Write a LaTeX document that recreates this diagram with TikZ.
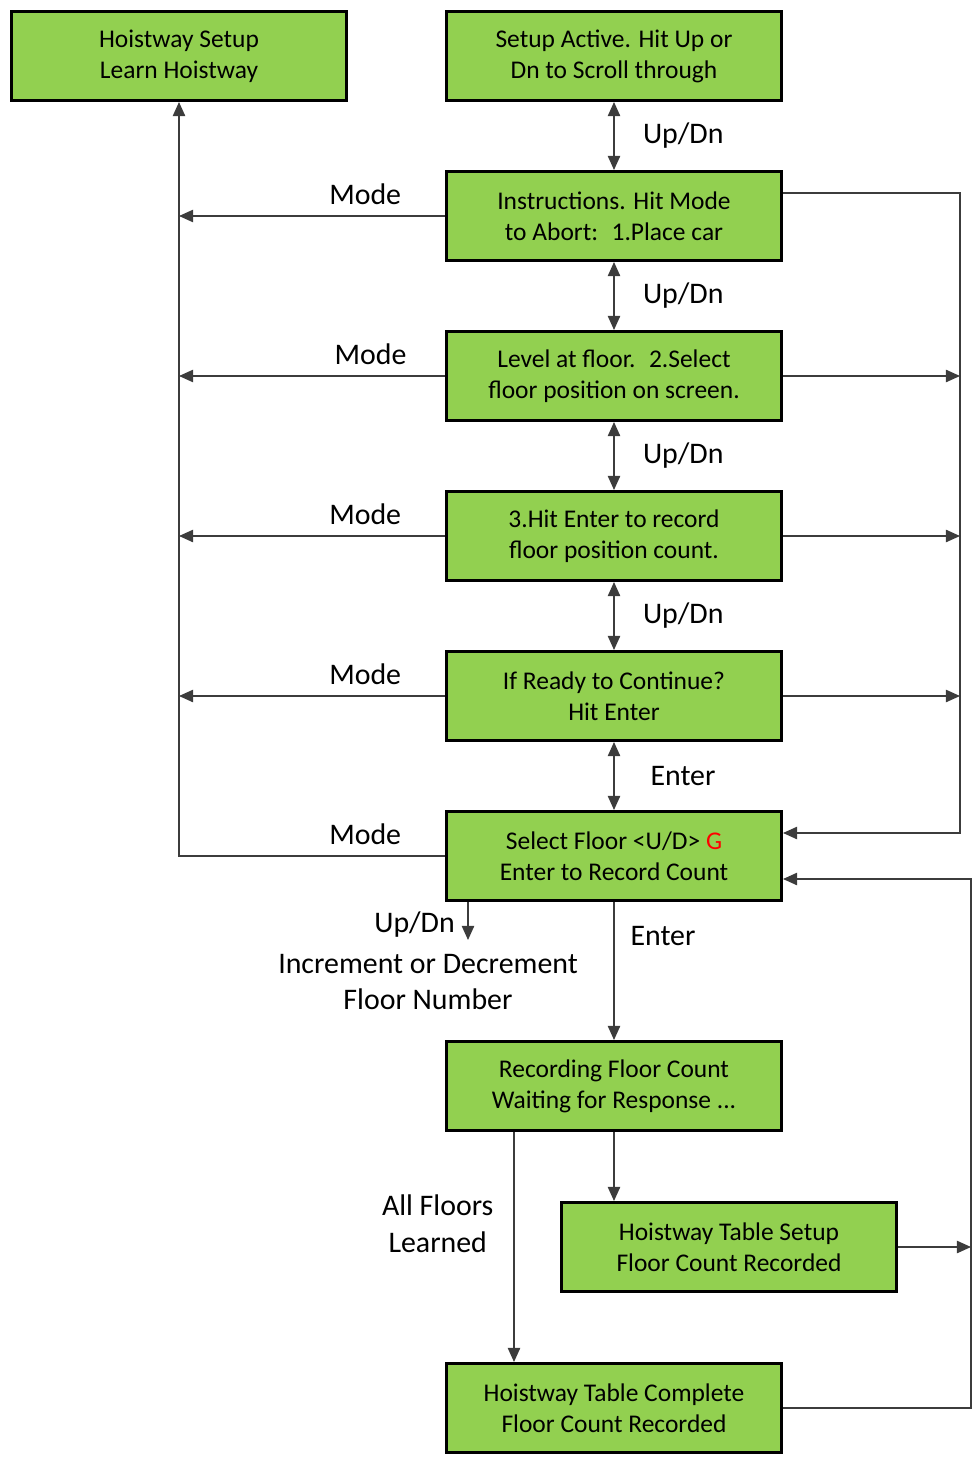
\documentclass[tikz,border=0pt]{standalone}
\usepackage{fontspec}
\setmainfont{Carlito}
\usepackage{tikz}
\usetikzlibrary{arrows.meta, positioning, calc}
\definecolor{boxgreen}{RGB}{146, 208, 80}
\definecolor{linegray}{RGB}{60, 60, 60}

\begin{document}
\begin{tikzpicture}[
    node distance=1.36cm,
    box/.style={rectangle, draw=black, line width=1.6pt, fill=boxgreen,
                minimum width=6.76cm-1.6pt, minimum height=1.84cm-1.6pt, align=center,
                font=\fontsize{14.5}{17.6}\selectfont},
    lbl/.style={text=black, font=\fontsize{17}{21}\selectfont},
    arrow/.style={-{Triangle[length=8pt, width=7pt]}, line width=0.8pt, linegray},
    twoway/.style={{Triangle[length=8pt, width=7pt]}-{Triangle[length=8pt, width=7pt]}, line width=0.8pt, linegray}
]
\useasboundingbox (0,0) rectangle (19.46,-29.16);

\node[box] (setup) at (12.28,-1.12) {Setup Active. Hit Up or\\Dn to Scroll through};
\node[box, left=1.94cm of setup] (hoist) {Hoistway Setup\\Learn Hoistway};
\node[box, below=of setup] (instr) {Instructions. Hit Mode\\to Abort:~ 1.Place car};
\node[box, below=of instr] (level) {Level at floor.~ 2.Select\\floor position on screen.};
\node[box, below=of level] (record) {3.Hit Enter to record\\floor position count.};
\node[box, below=of record] (ready) {If Ready to Continue?\\Hit Enter};
\node[box, below=of ready] (select) {Select Floor <U/D> \textcolor{red}{G}\\Enter to Record Count};
\node[box, below=2.76cm of select] (waiting) {Recording Floor Count\\Waiting for Response ...};
\node[box, below=1.38cm of waiting, xshift=2.3cm] (tblsetup) {Hoistway Table Setup\\Floor Count Recorded};
\node[box, below=1.38cm of tblsetup, xshift=-2.3cm] (complete) {Hoistway Table Complete\\Floor Count Recorded};

% rails on the right
\coordinate (rightin) at (19.2,-15);
\coordinate (rightout) at (19.42,-20);

% scrolling through the steps
\draw[twoway] (setup) -- node[lbl, midway, right, xshift=0.45cm] {Up/Dn} (instr);
\draw[twoway] (instr) -- node[lbl, midway, right, xshift=0.45cm] {Up/Dn} (level);
\draw[twoway] (level) -- node[lbl, midway, right, xshift=0.45cm] {Up/Dn} (record);
\draw[twoway] (record) -- node[lbl, midway, right, xshift=0.45cm] {Up/Dn} (ready);
\draw[twoway] (ready) -- node[lbl, midway, right, xshift=0.6cm] {Enter} (select);

% Mode aborts back to the top
\draw[arrow] (instr.west) -- node[lbl, pos=0.3, above, yshift=0.1cm] {Mode} (instr.west -| hoist.south);
\draw[arrow] (level.west) -- node[lbl, pos=0.28, above, yshift=0.1cm] {Mode} (level.west -| hoist.south);
\draw[arrow] (record.west) -- node[lbl, pos=0.3, above, yshift=0.1cm] {Mode} (record.west -| hoist.south);
\draw[arrow] (ready.west) -- node[lbl, pos=0.3, above, yshift=0.1cm] {Mode} (ready.west -| hoist.south);
\draw[arrow] (select.west) -- node[lbl, pos=0.3, above, yshift=0.1cm] {Mode} (select.west -| hoist.south) -- (hoist.south);

% jumps to floor selection
\draw[arrow] ([yshift=0.46cm]instr.east) -- ([yshift=0.46cm]instr.east -| rightin)
    -- ([yshift=0.46cm]select.east -| rightin) -- ([yshift=0.46cm]select.east);
\draw[arrow] (level.east) -- (level.east -| rightin);
\draw[arrow] (record.east) -- (record.east -| rightin);
\draw[arrow] (ready.east) -- (ready.east -| rightin);

% increment / decrement
\coordinate (updnend) at ([xshift=-2.92cm, yshift=-0.76cm]select.south);
\draw[arrow] ([xshift=-2.92cm]select.south) -- (updnend);
\node[lbl, anchor=east] (updnlbl) at ([xshift=-0.14cm, yshift=0.3cm]updnend) {Up/Dn};
\node[lbl, align=center] (incdec) at ([xshift=-3.72cm, yshift=-1.6cm]select.south) {Increment or Decrement\\Floor Number};

% recording
\draw[arrow] (select) -- node[lbl, pos=0.25, right, xshift=0.2cm] {Enter} (waiting);
\draw[arrow] (waiting.south) -- (waiting.south |- tblsetup.north);
\draw[arrow] ([xshift=-2cm]waiting.south) -- node[lbl, pos=0.4, left, xshift=-0.28cm, align=center] {All Floors\\Learned} ([xshift=-2cm]complete.north);

% back to floor selection
\draw[arrow] (complete.east) -- (complete.east -| rightout)
    -- ([yshift=-0.46cm]select.east -| rightout) -- ([yshift=-0.46cm]select.east);
\draw[arrow] (tblsetup.east) -- (tblsetup.east -| rightout);
\end{tikzpicture}
\end{document}
